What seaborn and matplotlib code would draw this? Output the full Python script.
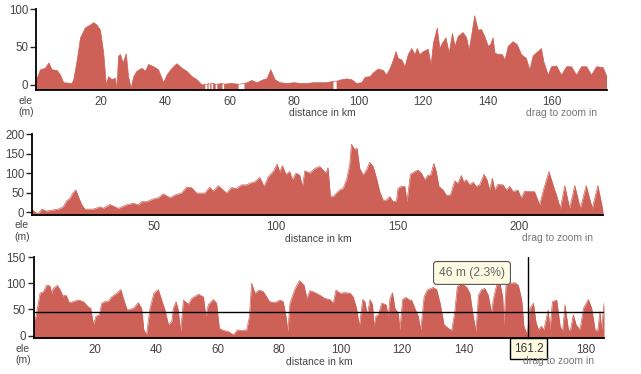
import numpy as np
import matplotlib
matplotlib.use("Agg")
import matplotlib.pyplot as plt
import matplotlib.transforms as mtransforms
import seaborn as sns

nan = np.nan

# track 1: distance (km) / elevation (m)
km1 = [0, 1.4, 2.9, 4.0, 5.0, 6.6, 7.6, 8.6, 11.2, 11.7, 12.8, 13.8, 15.3, 16.9, 17.9, 18.9,
       20.0, 21.0, 21.8, 22.5, 23.6, 24.6, 25.1, 25.6, 26.2, 27.0, 28.0, 28.7, 29.5, 30.3, 31.3,
       32.9, 33.9, 34.9, 36.5, 38.0, 39.6, 40.6, 42.2, 43.7, 45.3, 46.8, 48.4, 49.9, 51.5, 52.5,
       52.8, 53.1, 53.5, 53.7, 54.0, 54.4, 54.6, 54.9, 55.7, 55.9, 56.2, 57.8, 58.0, 58.3, 60.5,
       62.8, 63.8, 64.6, 65.5, 66.9, 68.5, 70.5, 71.6, 72.8, 74.1, 75.7, 78.0, 80.0, 82.0, 84.0,
       86.0, 88.1, 90.0, 91.2, 92.2, 92.7, 93.2, 94.8, 96.3, 97.9, 99.4, 101.0, 102.0, 103.6,
       104.6, 106.1, 107.7, 108.7, 109.8, 110.8, 111.6, 112.3, 113.4, 114.4, 115.4, 116.5, 117.5,
       118.2, 119.0, 120.1, 121.6, 122.5, 123.2, 124.4, 125.2, 126.0, 127.1, 128.1, 129.1, 129.9,
       130.9, 132.4, 133.5, 134.3, 135.0, 136.0, 137.1, 138.1, 139.1, 140.2, 140.9, 141.7, 142.3,
       143.3, 144.6, 145.4, 146.4, 147.9, 149.2, 150.5, 152.0, 153.1, 154.1, 155.1, 156.7, 157.4,
       158.8, 159.8, 161.4, 162.9, 164.5, 166.0, 167.6, 169.1, 170.7, 172.2, 173.8, 175.8, 177.0]
ele1 = [5, 20, 22, 29, 20, 19, 13, 3, 2, 7, 33, 62, 75, 79, 82, 79,
        72, 42, 0, 11, 7, 9, -4, 38, 40, 29, 41, 11, -4, 11, 18,
        22, 18, 27, 24, 20, 3, 13, 22, 28, 22, 18, 11, 7, 0, 1,
        nan, 1, 2, nan, 1, 2, nan, 2, 1, nan, 1, 2, nan, 1, 2,
        1, nan, 2, 3, 6, 3, 7, 8, 20, 7, 3, 2, 3, 2, 2,
        3, 3, 3, 4, 5, nan, 5, 7, 8, 7, 2, 3, 10, 11,
        16, 21, 19, 13, 22, 33, 44, 35, 33, 24, 40, 48, 40,
        48, 40, 44, 47, 27, 55, 75, 48, 55, 62, 42, 68, 51,
        64, 69, 62, 46, 64, 91, 72, 73, 64, 51, 53, 62, 42,
        40, 40, 33, 51, 57, 53, 40, 35, 20, 38, 42, 48, 31,
        13, 24, 25, 13, 24, 24, 13, 24, 24, 13, 24, 23, 11]

# track 2
km2 = [0, 1.2, 2.6, 4.0, 6.0, 8.7, 10.8, 12.8, 14.2, 15.6, 16.7, 18.0, 19.0, 20.4, 21.7, 25.1,
       27.9, 29.2, 31.9, 35.4, 38.8, 41.5, 43.6, 44.9, 47.0, 49.7, 51.8, 53.8, 56.6, 58.6, 61.3,
       63.4, 65.4, 67.5, 70.9, 72.9, 74.3, 76.4, 78.4, 79.8, 81.8, 83.9, 85.9, 88.0, 89.3, 91.4,
       93.4, 95.2, 96.9, 98.9, 100.5, 101.6, 102.7, 104.1, 105.7, 106.8, 108.2, 109.8, 110.9,
       111.9, 113.9, 116.0, 118.0, 119.4, 120.5, 121.4, 122.4, 123.5, 124.9, 126.2, 127.6, 129.0,
       130.3, 131.0, 132.4, 133.3, 134.4, 135.8, 137.2, 138.5, 139.9, 141.3, 142.6, 144.0, 145.4,
       146.7, 148.1, 149.5, 150.1, 151.5, 152.9, 153.8, 155.2, 157.0, 158.3, 159.7, 161.1, 162.4,
       163.5, 164.8, 165.8, 166.9, 168.6, 169.9, 171.6, 173.4, 174.7, 176.1, 177.0, 178.1, 179.5,
       180.9, 182.2, 183.6, 185.4, 186.6, 187.7, 188.8, 189.8, 191.1, 193.2, 194.5, 195.9, 197.3,
       199.3, 200.7, 202.0, 204.1, 206.1, 208.2, 209.6, 212.0, 213.7, 215.3, 216.7, 218.5, 220.5,
       222.6, 224.9, 227.3, 229.8, 232.1, 234.2]
ele2 = [8, 0, -3, 8, 3, 6, 8, 14, 29, 36, 49, 57, 40, 19, 8, 8,
        14, 10, 20, 10, 19, 23, 19, 27, 27, 34, 37, 47, 37, 44, 49,
        64, 63, 49, 49, 64, 54, 68, 57, 49, 63, 61, 70, 70, 74, 78,
        89, 66, 91, 104, 123, 104, 119, 97, 104, 83, 100, 95, 66,
        106, 100, 112, 117, 108, 100, 114, 40, 40, 49, 57, 61, 83,
        121, 174, 160, 164, 112, 95, 108, 128, 117, 87, 53, 31, 31,
        40, 27, 29, 61, 66, 66, 27, 97, 104, 108, 100, 83, 95,
        95, 125, 104, 66, 57, 44, 44, 80, 74, 94, 78, 83, 70,
        77, 66, 70, 97, 83, 57, 87, 57, 71, 70, 57, 66, 53,
        57, 36, 54, 53, 53, 19, 53, 104, 70, 40, 10, 68, 10,
        68, 10, 68, 10, 68, 3]

# track 3
km3 = [0, 0.8, 2.1, 3.2, 4.25, 5.3, 5.9, 6.4, 7.7, 8.6, 9.5, 10.6, 11.6, 12.9, 14.6, 16.2,
       17.8, 18.6, 19.5, 20.3, 21.4, 22.2, 23.3, 24.3, 25.4, 27.1, 28.4, 29.4, 30.5, 32.5, 34.1,
       35.2, 35.9, 36.8, 37.9, 39.2, 40.6, 41.7, 42.8, 43.9, 45.0, 45.5, 46.4, 47.1, 47.9, 48.8,
       50.4, 51.5, 53.7, 55.3, 56.1, 56.9, 58.5, 59.6, 60.5, 61.8, 63.4, 65.1, 66.4, 67.8, 69.4,
       70.3, 71.0, 72.1, 73.5, 74.8, 75.9, 76.8, 78.6, 80.3, 81.3, 82.2, 82.8, 83.5, 85.2, 86.6,
       88.1, 89.0, 90.0, 91.7, 93.3, 94.9, 96.5, 97.6, 98.5, 99.8, 101.4, 103.1, 104.1, 105.2,
       106.1, 107.2, 107.9, 108.7, 109.6, 110.4, 110.9, 111.5, 112.3, 113.4, 114.8, 115.5, 116.1,
       116.9, 117.7, 118.8, 119.3, 120.2, 121.3, 122.4, 123.1, 124.2, 125.3, 126.1, 127.2, 128.2,
       130.2, 131.3, 132.4, 133.7, 135.1, 136.2, 137.2, 138.0, 139.1, 140.2, 141.0, 142.1, 143.2,
       144.1, 144.9, 145.9, 147.0, 148.1, 149.2, 149.7, 150.8, 151.9, 152.8, 153.2, 153.9, 155.2,
       156.8, 157.9, 159.0, 159.7, 160.8, 161.7, 162.8, 163.6, 164.4, 165.4, 166.2, 167.6, 168.2,
       169.0, 170.4, 171.5, 172.3, 173.1, 174.2, 174.9, 175.8, 176.7, 178.0, 179.1, 180.7, 181.8,
       182.9, 183.7, 184.5, 185.0, 185.8]
ele3 = [27, 37, 81, 84, 96, 95, 81, 90, 96, 88, 76, 77, 63, 65, 68, 65,
        55, 52, 21, 37, 40, 62, 65, 65, 74, 81, 88, 68, 49, 52, 63,
        52, 11, 2, 52, 81, 88, 68, 49, 21, 27, 52, 65, 49, 8, 68,
        60, 71, 79, 74, 37, 59, 69, 62, 14, 10, 8, 2, 11, 10, 11,
        37, 100, 81, 87, 84, 74, 65, 63, 68, 65, 37, 8, 62, 90, 105,
        96, 71, 86, 82, 77, 71, 69, 62, 87, 81, 82, 81, 74, 52,
        18, 69, 65, 40, 69, 59, 18, 37, 40, 62, 59, 37, 71,
        82, 52, 43, 11, 69, 73, 68, 68, 52, 37, 11, 74, 87,
        92, 88, 62, 21, 14, 10, 46, 93, 100, 96, 93, 81, 37,
        8, 77, 88, 90, 77, 43, 68, 96, 100, 74, 21, 96, 100,
        101, 96, 68, 18, 2, 52, 62, 27, 11, 18, 11, 49, 11,
        65, 68, 18, 8, 59, 11, 11, 40, 21, 11, 52, 69, 52,
        11, 8, 46, 11, 62]

# hover readout on the third track
cursor_km = 161.2
cursor_ele = 46
cursor_text = "46 m (2.3%)"

fill_color = "#cd6157"

sns.set_style("ticks")
plt.rcParams['font.family'] = ['Liberation Sans', 'DejaVu Sans']

W, H = 641, 374
fig = plt.figure(figsize=(W / 100, H / 100), dpi=100)


def px(x, y):
    return x / W, 1 - y / H


def draw_profile(rect, km, ele, ylim, yticks, xticks, xmax):
    left, top, right, bottom = rect
    ax = fig.add_axes([left / W, 1 - bottom / H, (right - left) / W, (bottom - top) / H])
    ele = np.array(ele, dtype=float)
    ax.fill_between(km, ele, ylim[0], color=fill_color, linewidth=0)
    sns.lineplot(x=km, y=ele, ax=ax, color=fill_color, linewidth=0.5,
                 estimator=None, sort=False)
    ax.set_xlim(0, xmax)
    ax.set_ylim(*ylim)
    ax.set_yticks(yticks)
    ax.set_xticks(xticks)
    ax.set_xlabel("")
    ax.set_ylabel("")
    sns.despine(ax=ax)
    for s in ["left", "bottom"]:
        ax.spines[s].set_color("black")
        ax.spines[s].set_linewidth(1.3)
    ax.tick_params(axis="y", length=4, width=1, pad=1.5, labelsize=8.3, labelcolor="#444")
    ax.tick_params(axis="x", length=0, pad=4, labelsize=8.3, labelcolor="#444")
    return ax


ax1 = draw_profile((36, 9, 607, 90), km1, ele1, (-6.6, 100), [0, 50, 100],
                   list(range(20, 161, 20)), 177)
ax2 = draw_profile((32, 134, 603, 215), km2, ele2, (-7, 200), [0, 50, 100, 150, 200],
                   [50, 100, 150, 200], 234.2)
ax3 = draw_profile((33.6, 257, 604, 338), km3, ele3, (-4.4, 150), [0, 50, 100, 150],
                   list(range(20, 181, 20)), 185.8)

# axis captions
for ex, ey, dy, dx_c, dist_y, drag_x, drag_y in [
        (26, 100.5, 112, 322, 113, 562, 113),
        (22, 225, 237, 318, 239, 557.5, 238),
        (23, 349, 360, 319, 362, 558.5, 361)]:
    fig.text(*px(ex, ey), "ele", ha="center", va="center", fontsize=7.5, color="#444")
    fig.text(*px(ex, dy), "(m)", ha="center", va="center", fontsize=7.5, color="#444")
    fig.text(*px(dx_c, dist_y), "distance in km", ha="center", va="center",
             fontsize=7.5, color="#444")
    fig.text(*px(drag_x, drag_y), "drag to zoom in", ha="center", va="center",
             fontsize=7.5, color="#777")

# crosshair
ax3.axhline(cursor_ele, color="black", linewidth=1, zorder=5)
ax3.axvline(cursor_km, ymin=0, ymax=1, color="black", linewidth=1, zorder=5)
ax3.text(142.8, 119.6, cursor_text, ha="center", va="center", fontsize=8.7, color="#666",
         zorder=6, bbox=dict(boxstyle="round,pad=0.45,rounding_size=0.25",
                             fc="#fffbe3", ec="#555", lw=0.8))
trans = mtransforms.blended_transform_factory(ax3.transData, ax3.transAxes)
ax3.text(cursor_km, -0.13, "%.1f" % cursor_km, transform=trans, ha="center", va="center",
         fontsize=8.5, color="#333", zorder=6, clip_on=False,
         bbox=dict(boxstyle="square,pad=0.35", fc="#fffbe3", ec="black", lw=1))

fig.savefig("out.png", dpi=100)
